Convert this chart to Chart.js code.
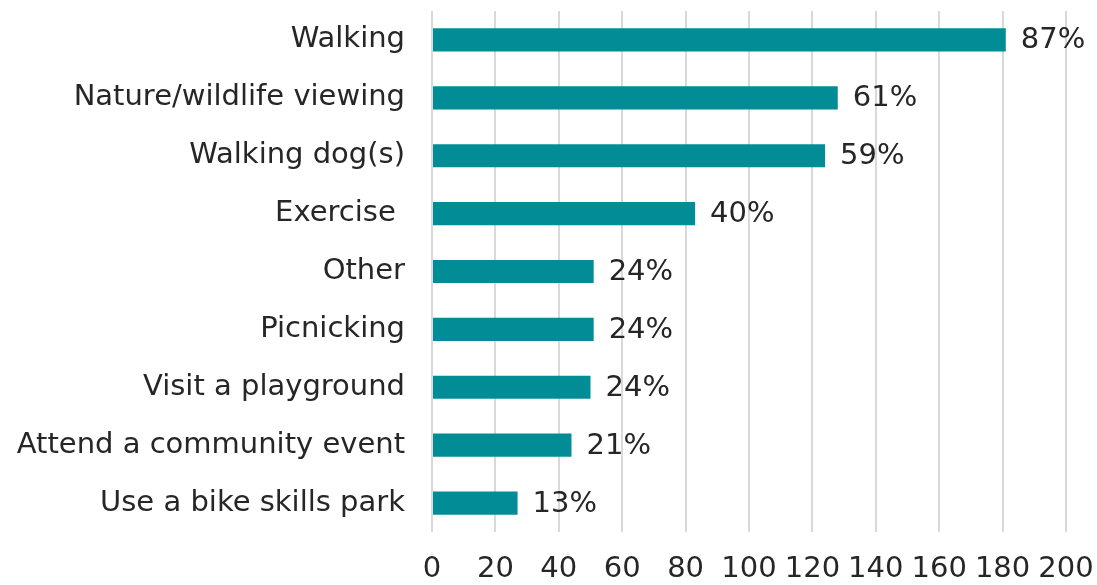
<!DOCTYPE html>
<html>
<head>
<meta charset="utf-8">
<script src="https://cdn.jsdelivr.net/npm/chart.js@4"></script>
<style>
  html, body { margin: 0; padding: 0; background: #ffffff; }
  #wrap { width: 1097px; height: 585px; }
</style>
</head>
<body>
<div id="wrap"><canvas id="c" width="1097" height="585"></canvas></div>
<script>
const categories = [
  "Walking",
  "Nature/wildlife viewing",
  "Walking dog(s)",
  "Exercise ",
  "Other",
  "Picnicking",
  "Visit a playground",
  "Attend a community event",
  "Use a bike skills park"
];
const counts = [181, 128, 124, 83, 51, 51, 50, 44, 27];
const percentLabels = ["87%", "61%", "59%", "40%", "24%", "24%", "24%", "21%", "13%"];
const xMin = 0;
const xMax = 200;
const xStep = 20;

const FONT = "'DejaVu Sans', sans-serif";
const TEXT = "#262626";

const valueLabels = {
  id: "valueLabels",
  afterDatasetsDraw(chart) {
    const ctx = chart.ctx;
    const meta = chart.getDatasetMeta(0);
    ctx.save();
    ctx.font = "29px " + FONT;
    ctx.fillStyle = TEXT;
    ctx.textAlign = "left";
    ctx.textBaseline = "middle";
    meta.data.forEach((bar, i) => {
      ctx.fillText(percentLabels[i], bar.x + 15, bar.y + 1);
    });
    ctx.restore();
  }
};

new Chart(document.getElementById("c"), {
  type: "bar",
  data: {
    labels: categories,
    datasets: [{
      data: counts,
      backgroundColor: "#028C96",
      borderWidth: 0,
      categoryPercentage: 0.8,
      barPercentage: 0.5
    }]
  },
  options: {
    indexAxis: "y",
    responsive: false,
    animation: false,
    devicePixelRatio: 1,
    layout: { padding: { top: 11, right: 31, bottom: 0, left: 0 } },
    plugins: { legend: { display: false }, tooltip: { enabled: false } },
    scales: {
      x: {
        min: xMin,
        max: xMax,
        ticks: { stepSize: xStep, color: TEXT, font: { family: FONT, size: 29 }, padding: 20, maxRotation: 0 },
        grid: { color: "#D9D9D9", lineWidth: 2, drawTicks: false },
        border: { display: false },
        afterFit(scale) {
          scale.height = 53;
          scale.paddingLeft = 0; scale.paddingRight = 0;
          scale.paddingTop = 0; scale.paddingBottom = 0;
        }
      },
      y: {
        ticks: { color: TEXT, font: { family: FONT, size: 29 }, padding: 27, autoSkip: false },
        grid: { display: false, drawTicks: false },
        border: { display: false },
        afterFit(scale) {
          scale.width = 432;
          scale.paddingLeft = 0; scale.paddingRight = 0;
          scale.paddingTop = 0; scale.paddingBottom = 0;
        }
      }
    }
  },
  plugins: [valueLabels]
});
</script>
</body>
</html>
